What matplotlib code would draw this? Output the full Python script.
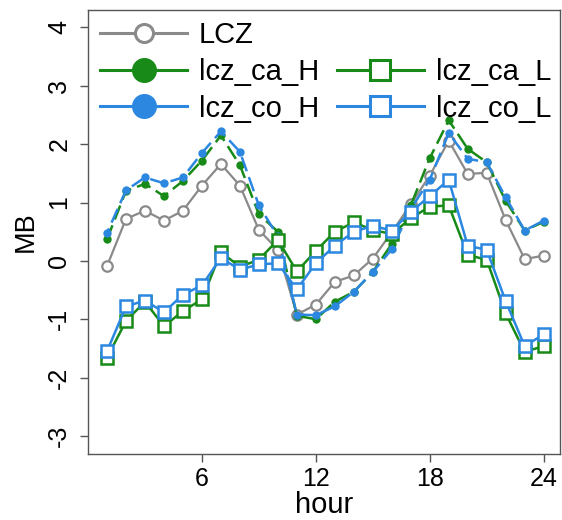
import matplotlib
matplotlib.use("Agg")
import matplotlib.pyplot as plt
from matplotlib.lines import Line2D

plt.rcParams["font.family"] = ["Liberation Sans", "DejaVu Sans"]
plt.rcParams["axes.unicode_minus"] = False

hours = list(range(1, 25))
lcz = [-0.09, 0.72, 0.86, 0.69, 0.86, 1.29, 1.66, 1.29, 0.53, 0.19, -0.92, -0.75,
       -0.36, -0.25, 0.04, 0.49, 0.97, 1.46, 2.06, 1.49, 1.51, 0.70, 0.03, 0.09]
lcz_ca_H = [0.37, 1.20, 1.32, 1.11, 1.37, 1.72, 2.15, 1.64, 0.80, 0.50, -0.94, -1.00,
            -0.70, -0.53, -0.19, 0.29, 0.95, 1.76, 2.41, 1.92, 1.69, 1.03, 0.52, 0.67]
lcz_co_H = [0.48, 1.21, 1.43, 1.33, 1.43, 1.85, 2.22, 1.87, 0.95, 0.42, -0.92, -0.93,
            -0.78, -0.53, -0.19, 0.20, 0.89, 1.39, 2.19, 1.75, 1.69, 1.09, 0.52, 0.69]
lcz_ca_L = [-1.66, -1.03, -0.70, -1.12, -0.86, -0.66, 0.15, -0.10, 0.02, 0.36, -0.18, 0.17,
            0.50, 0.66, 0.53, 0.46, 0.73, 0.93, 0.95, 0.10, 0.02, -0.90, -1.56, -1.46]
lcz_co_L = [-1.55, -0.78, -0.68, -0.88, -0.58, -0.42, 0.05, -0.15, -0.06, -0.04, -0.49, -0.04,
            0.26, 0.50, 0.60, 0.52, 0.84, 1.11, 1.39, 0.26, 0.19, -0.69, -1.46, -1.26]

GRAY, GREEN, BLUE = "#8a8a8a", "#178a17", "#2b87e0"
SPINE = "#555555"

fig = plt.figure(figsize=(5.62, 5.20), dpi=100)
ax = fig.add_axes([0.1566, 0.1269, 0.8398, 0.8539])

ax.plot(hours, lcz, color=GRAY, lw=1.6, marker="o", ms=7.5, mfc="white",
        mec=GRAY, mew=1.6)
ax.plot(hours, lcz_ca_H, color=GREEN, lw=1.8, ls=(0, (6, 2.5)), marker="o", ms=5,
        mfc=GREEN, mec=GREEN)
ax.plot(hours, lcz_co_H, color=BLUE, lw=1.8, ls=(4, (6, 2.5)), marker="o", ms=5,
        mfc=BLUE, mec=BLUE)
ax.plot(hours, lcz_ca_L, color=GREEN, lw=1.8, marker="s", ms=8, mfc="white",
        mec=GREEN, mew=1.8)
ax.plot(hours, lcz_co_L, color=BLUE, lw=1.8, marker="s", ms=8, mfc="white",
        mec=BLUE, mew=1.8)

ax.set_xlim(0, 24.86)
ax.set_ylim(-3.31, 4.30)
ax.set_xticks([6, 12, 18, 24])
ax.set_yticks(range(-3, 5))
for s in ax.spines.values():
    s.set_color(SPINE)
    s.set_linewidth(1.0)
ax.tick_params(direction="out", length=6, width=1.0, color=SPINE, labelsize=18)
ax.tick_params(axis="x", pad=3)
ax.tick_params(axis="y", pad=6)
for lab in ax.get_yticklabels():
    lab.set_rotation(90)
    lab.set_va("center")
    lab.set_ha("right")

ax.set_xlabel("hour", fontsize=21, labelpad=0)
ax.set_ylabel("MB", fontsize=19.5, labelpad=6)

handles = [
    Line2D([], [], color=GRAY, lw=2.2, marker="o", ms=13, mfc="white", mec=GRAY, mew=2.2),
    Line2D([], [], color=GREEN, lw=2.2, marker="o", ms=17, mfc=GREEN, mec=GREEN),
    Line2D([], [], color=BLUE, lw=2.2, marker="o", ms=17, mfc=BLUE, mec=BLUE),
    Line2D([], [], alpha=0),
    Line2D([], [], color=GREEN, lw=2.2, marker="s", ms=14, mfc="white", mec=GREEN, mew=2.2),
    Line2D([], [], color=BLUE, lw=2.2, marker="s", ms=14, mfc="white", mec=BLUE, mew=2.2),
]
labels = ["LCZ", "lcz_ca_H", "lcz_co_H", "", "lcz_ca_L", "lcz_co_L"]
ax.legend(handles, labels, ncol=2, loc="upper left", bbox_to_anchor=(0.025, 0.975),
          frameon=False, fontsize=21, handlelength=3.0, handletextpad=0.4,
          columnspacing=0.6, labelspacing=0.3, borderpad=0, borderaxespad=0)

fig.savefig("out.png", dpi=100)
